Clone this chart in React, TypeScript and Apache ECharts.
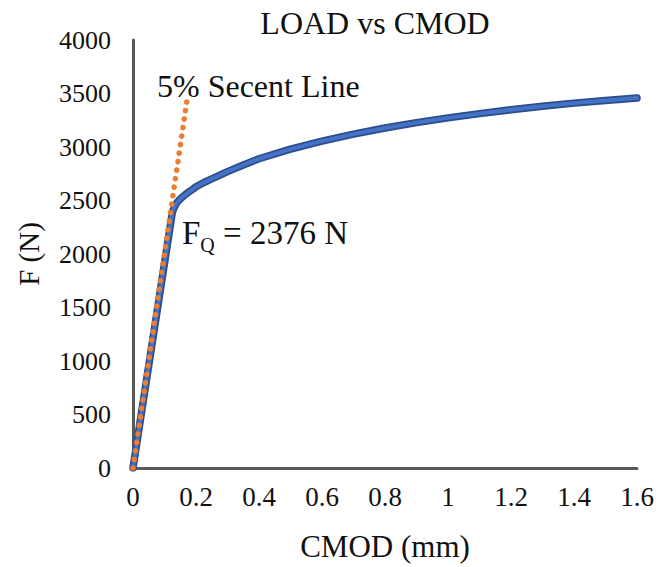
import React, { useEffect, useRef } from "react";
import * as echarts from "echarts";

const cmod = [0, 0.06, 0.125, 0.13, 0.135, 0.14, 0.145, 0.155, 0.165, 0.175, 0.19, 0.2, 0.225, 0.25, 0.3, 0.35, 0.4, 0.5, 0.6, 0.7, 0.8, 0.9, 1.0, 1.1, 1.2, 1.3, 1.4, 1.5, 1.6];
const load = [0, 1150, 2390, 2430, 2460, 2482, 2500, 2528, 2552, 2575, 2605, 2628, 2668, 2702, 2770, 2832, 2890, 2980, 3055, 3120, 3178, 3228, 3272, 3312, 3348, 3380, 3410, 3435, 3458];
const secantX = [0, 0.172];
const secantY = [0, 3450];
const xTicks = { min: 0, max: 1.6, interval: 0.2 };
const yTicks = { min: 0, max: 4000, interval: 500 };

const FONT = "'Liberation Serif', 'Times New Roman', serif";

export default function App() {
  const ref = useRef<HTMLDivElement>(null);
  useEffect(() => {
    if (!ref.current) return;
    const chart = echarts.init(ref.current, undefined, { renderer: "svg" });
    const curve = cmod.map((x, i) => [x, load[i]]);
    const secant = secantX.map((x, i) => [x, secantY[i]]);
    chart.setOption({
      animation: false,
      backgroundColor: "#ffffff",
      title: {
        text: "LOAD vs CMOD",
        left: 370,
        textAlign: "center",
        top: 2,
        textStyle: { fontFamily: FONT, fontSize: 32, fontWeight: "normal", color: "#111" },
      },
      grid: { left: 133, right: 21, top: 40, bottom: 99, containLabel: false },
      xAxis: {
        type: "value",
        min: xTicks.min,
        max: xTicks.max,
        interval: xTicks.interval,
        name: "CMOD (mm)",
        nameLocation: "middle",
        nameGap: 63,
        nameTextStyle: { fontFamily: FONT, fontSize: 31, color: "#111" },
        axisLine: { show: true, lineStyle: { color: "#595959", width: 3 } },
        axisTick: { show: false },
        splitLine: { show: false },
        axisLabel: {
          fontFamily: FONT,
          fontSize: 27,
          color: "#111",
          margin: 15,
          formatter: (v: number) => String(parseFloat(v.toFixed(1))),
        },
      },
      yAxis: {
        type: "value",
        min: yTicks.min,
        max: yTicks.max,
        interval: yTicks.interval,
        name: "F (N)",
        nameLocation: "middle",
        nameGap: 90,
        nameTextStyle: { fontFamily: FONT, fontSize: 29, color: "#111" },
        axisLine: { show: true, lineStyle: { color: "#595959", width: 3 } },
        axisTick: { show: false },
        splitLine: { show: false },
        axisLabel: {
          fontFamily: FONT,
          fontSize: 26,
          color: "#111",
          margin: 22,
          formatter: (v: number) => String(v),
        },
      },
      series: [
        {
          type: "line",
          data: curve,
          showSymbol: false,
          smooth: false,
          lineStyle: { color: "#2C4D8E", width: 7.5, join: "round", cap: "round" },
          z: 2,
        },
        {
          type: "line",
          data: curve,
          showSymbol: false,
          smooth: false,
          lineStyle: { color: "#4472C4", width: 4, join: "round", cap: "round" },
          z: 3,
        },
        {
          type: "line",
          data: secant,
          showSymbol: false,
          lineStyle: { color: "#ED7D31", width: 5.5, type: [0.1, 8.5], cap: "round" },
          z: 4,
        },
      ],
      graphic: [
        {
          type: "text",
          left: 157,
          top: 70,
          style: { text: "5% Secent Line", fontFamily: FONT, fontSize: 32, fill: "#111" },
        },
        {
          type: "text",
          left: 182,
          top: 216,
          style: {
            text: "{f|F}{q|Q}{t| = 2376 N}",
            fontFamily: FONT,
            fill: "#111",
            rich: {
              f: { fontFamily: FONT, fontSize: 33, fill: "#111", verticalAlign: "bottom" },
              q: { fontFamily: FONT, fontSize: 20, fill: "#111", verticalAlign: "bottom", padding: [0, 0, -6, 0] },
              t: { fontFamily: FONT, fontSize: 33, fill: "#111", verticalAlign: "bottom" },
            },
          },
        },
      ],
    });
    return () => chart.dispose();
  }, []);
  return (
    <div
      ref={ref}
      style={{ position: "fixed", left: 0, top: 0, width: 658, height: 567 }}
    />
  );
}
